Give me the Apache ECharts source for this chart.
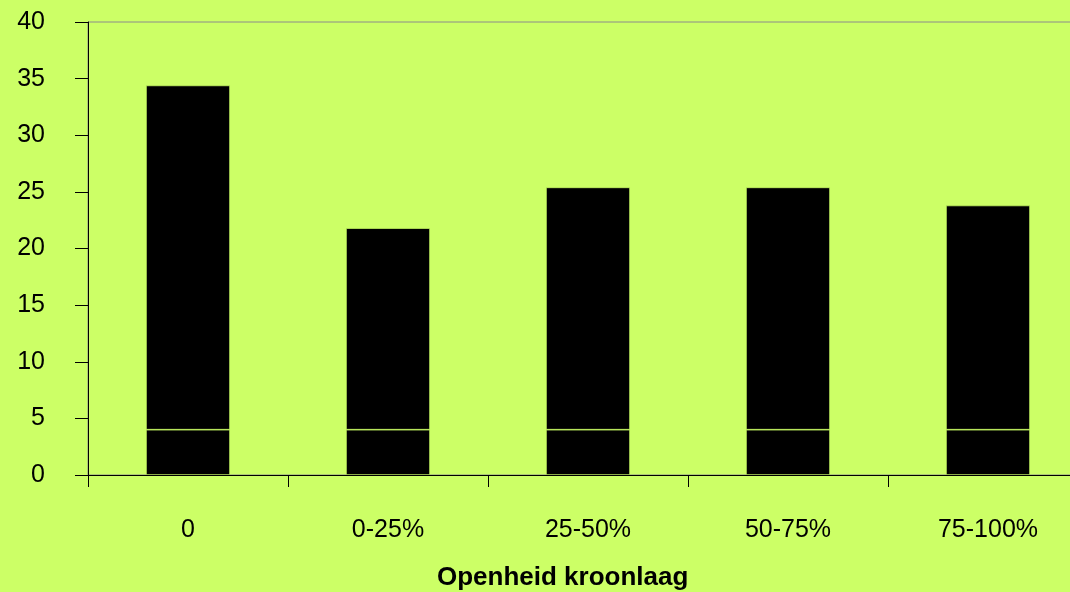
<!DOCTYPE html>
<html>
<head>
<meta charset="utf-8">
<script src="https://cdn.jsdelivr.net/npm/echarts@6/dist/echarts.min.js"></script>
<style>
  html, body { margin: 0; padding: 0; background: #CCFF66; overflow: hidden; }
  #wrap { width: 1070px; height: 592px; overflow: hidden; }
  /* the plot runs a little past the right edge, as in the original */
  #chart { width: 1088px; height: 592px; }
</style>
</head>
<body>
<div id="wrap"><div id="chart"></div></div>
<script>
const categories = ['0', '0-25%', '25-50%', '50-75%', '75-100%'];
// total bar heights
const totals = [34.4, 21.8, 25.4, 25.4, 23.8];
// lower segment of each bar (separated by a thin line)
const lowerPart = [4, 4, 4, 4, 4];
const yTicks = { min: 0, max: 40, interval: 5 };
const xTitle = 'Openheid kroonlaag';

const upperPart = totals.map((t, i) => +(t - lowerPart[i]).toFixed(2));

const bg = '#CCFF66';
const font = 'Arial, "Liberation Sans", sans-serif';

const chart = echarts.init(document.getElementById('chart'));

const options = {
  backgroundColor: bg,
  animation: false,
  grid: {
    left: 88,
    top: 22,
    right: 0,
    height: 453,
    show: true,
    borderColor: '#8c8c8c',
    borderWidth: 1,
    backgroundColor: 'transparent'
  },
  graphic: [{
    type: 'text',
    left: 437,
    top: 565,
    style: {
      text: xTitle,
      font: 'bold 26px ' + font,
      fill: '#000'
    }
  }],
  xAxis: {
    type: 'category',
    data: categories,
    z: 10,
    axisLine: { lineStyle: { color: '#000', width: 1 } },
    axisTick: { show: true, length: 12, lineStyle: { color: '#000' } },
    axisLabel: { fontFamily: font, fontSize: 25, color: '#000', margin: 43 }
  },
  yAxis: {
    type: 'value',
    min: yTicks.min,
    max: yTicks.max,
    interval: yTicks.interval,
    z: 10,
    splitLine: { show: false },
    axisLine: { show: true, lineStyle: { color: '#000', width: 1 } },
    axisTick: { show: true, length: 13, lineStyle: { color: '#000' } },
    axisLabel: { fontFamily: font, fontSize: 25, color: '#000', margin: 43 }
  },
  series: [
    {
      name: 'onder',
      type: 'bar',
      stack: 'totaal',
      data: lowerPart,
      barWidth: 84,
      itemStyle: { color: '#000', borderColor: bg, borderWidth: 0.7 }
    },
    {
      name: 'boven',
      type: 'bar',
      stack: 'totaal',
      data: upperPart,
      barWidth: 84,
      itemStyle: { color: '#000', borderColor: bg, borderWidth: 0.7 }
    }
  ]
};

chart.setOption(options);
</script>
</body>
</html>
